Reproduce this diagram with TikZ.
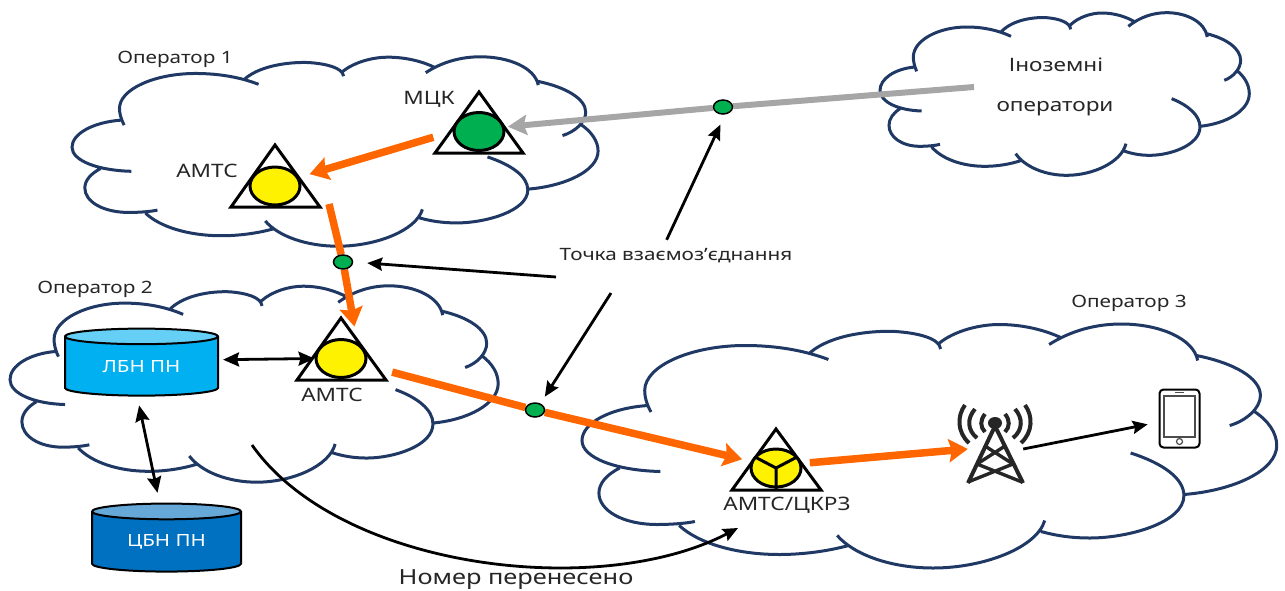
\documentclass[tikz,border=0pt]{standalone}
\usepackage{fontspec}
\setmainfont[FakeStretch=1.22]{Noto Sans}
\usetikzlibrary{arrows.meta,shapes.geometric,backgrounds}

\definecolor{cloudblue}{HTML}{1F3864}
\definecolor{linkorange}{HTML}{FF6600}
\definecolor{linkgray}{HTML}{A6A6A6}
\definecolor{hubgreen}{HTML}{00B050}
\definecolor{dbblue}{HTML}{00B0F0}
\definecolor{dbtop}{HTML}{66CFF6}
\definecolor{cdbblue}{HTML}{0070C0}
\definecolor{cdbtop}{HTML}{66A9D9}
\definecolor{towergray}{HTML}{262626}

\tikzset{
 cloudline/.style={draw=cloudblue, line width=3},
 tri/.style={draw=black, line width=3, miter limit=20},
 hub/.style={ellipse, draw=black, line width=3, inner sep=0, minimum width=50, minimum height=38},
 dot/.style={ellipse, draw=black, fill=hubgreen, line width=1.5, inner sep=0, minimum width=19, minimum height=14},
 lbl/.style={inner sep=0, text=black!85, font=\fontsize{17}{20}\selectfont},
 big/.style={font=\fontsize{18.5}{22}\selectfont},
 base/.style={cylinder, shape border rotate=90, draw=black, line width=2, cylinder uses custom fill,
  aspect=.2, text=white, inner sep=0, font=\fontsize{16.8}{19}\selectfont},
 orange/.style={draw=linkorange, line width=7.5},
 orangearrow/.style={orange, -{Stealth[length=19pt, width=23pt, inset=3pt]}},
 grayarrow/.style={draw=linkgray, line width=6, -{Stealth[length=19pt, width=20pt, inset=3pt]}},
 blackarrow/.style={draw=black, line width=2.8, -{Stealth[length=15pt, width=13pt, inset=2pt]}},
 bothways/.style={draw=black, line width=2.8, {Stealth[length=16pt, width=14pt, inset=2pt]}-{Stealth[length=16pt, width=14pt, inset=2pt]}},
 mast/.style={draw=towergray, line width=4},
}

% one cloud, in the coordinates of the crop
\newcommand{\cloudarcs}{
 \draw[cloudline]
  (140,183) .. controls (132,165) and (130,150) .. (130,140) .. controls (130,90) and (205,50) .. (290,50) .. controls (340,50) and (385,60) .. (423,78)
  (393,65) .. controls (430,25) and (500,20) .. (530,22) .. controls (565,25) and (600,35) .. (602,57)
  (600,45) .. controls (625,20) and (665,8) .. (695,8) .. controls (735,8) and (770,20) .. (795,35)
  (775,48) .. controls (810,20) and (850,7) .. (890,7) .. controls (950,7) and (1005,35) .. (1012,80)
  (1010,70) .. controls (1070,85) and (1112,115) .. (1112,150) .. controls (1112,175) and (1090,200) .. (1063,210)
  (1100,180) .. controls (1125,200) and (1138,225) .. (1138,250) .. controls (1138,300) and (1070,340) .. (990,348)
  (905,265) .. controls (955,285) and (990,315) .. (990,350) .. controls (990,405) and (900,435) .. (840,435) .. controls (810,435) and (785,430) .. (762,422)
  (768,400) .. controls (755,455) and (670,495) .. (590,495) .. controls (525,495) and (465,470) .. (437,430)
  (455,450) .. controls (420,462) and (380,468) .. (345,468) .. controls (275,468) and (215,445) .. (185,410)
  (210,402) .. controls (195,406) and (170,408) .. (150,408) .. controls (95,408) and (57,380) .. (57,345) .. controls (57,325) and (70,308) .. (90,295)
  (155,302) .. controls (85,300) and (30,275) .. (30,240) .. controls (30,205) and (75,175) .. (135,170);
}

\begin{document}
\begin{tikzpicture}[x=1pt, y=-1pt]
\useasboundingbox (0,0) rectangle (1285,590);

% triangles and hubs
 \draw[tri] (479,92) -- (523,153) -- (435,153) -- cycle;
 \node[hub, fill=hubgreen] (mck) at (479,131.5) {};

 \draw[tri] (275,145) -- (320,207) -- (231,207) -- cycle;
 \node[hub, fill=yellow] (amtsa) at (275,186) {};

 \draw[tri] (341,318) -- (386,380) -- (297,380) -- cycle;
 \node[hub, fill=yellow] (amtsb) at (341,358.5) {};

 \draw[tri] (776,429) -- (821,490) -- (732,490) -- cycle;
 \node[hub, fill=yellow] (amtsc) at (776,468) {};
 \draw[draw=black, line width=3] (amtsc.center) -- (755,457) (amtsc.center) -- (797,457) (amtsc.center) -- (776,490);

% databases
 \node[base, minimum width=153, minimum height=67, cylinder body fill=dbblue, cylinder end fill=dbtop] (lbn) at (141.5,366.5) {ЛБН ПН};
 \node[base, minimum width=149, minimum height=68, cylinder body fill=cdbblue, cylinder end fill=cdbtop] (cbn) at (166.5,542) {ЦБН ПН};

% points of interconnection
 \node[dot] (dota) at (343,262) {};
 \node[dot] (dotb) at (535,410) {};
 \node[dot] (dotc) at (723,107) {};

% tower
 \node[inner sep=0, minimum width=55, minimum height=88] (tower) at (995.5,449) {};
 \draw[mast] (995,426) -- (968,483) (995,426) -- (1023,483);
 \draw[mast, line width=3.4] (985,446) -- (1013,464) (1005,446) -- (977,464);
 \draw[mast, line width=3.4] (977,464) -- (1022,482) (1013,464) -- (968,482);
 \fill[towergray] (995,423) ellipse[x radius=7, y radius=6];
 \draw[mast] (985,414) .. controls (980,420) and (980,427) .. (985,432);
 \draw[mast] (975,409) .. controls (967,418) and (967,430) .. (977,438);
 \draw[mast] (965,405) .. controls (957,416) and (957,432) .. (969,443);
 \draw[mast] (1005,414) .. controls (1010,420) and (1010,427) .. (1005,432);
 \draw[mast] (1015,409) .. controls (1023,418) and (1023,430) .. (1013,438);
 \draw[mast] (1025,405) .. controls (1033,416) and (1033,432) .. (1021,443);

% phone
 \node[draw=black, line width=2, rounded corners=4pt, inner sep=0, minimum width=40, minimum height=58] (phone) at (1179.5,418.5) {};
 \draw[draw=black!70, line width=1.2] (1164,396) rectangle (1195,437);
 \draw[draw=black!70, line width=1.2] (1179.5,441.5) circle[radius=3];
 \draw[draw=black!70, line width=1] (1175,392.5) -- (1184,392.5);

% labels
 \node[lbl] (op1) at (175,59.5) {Оператор 1};
 \node[lbl] (op2) at (95,289.5) {Оператор 2};
 \node[lbl] (op3) at (1129,303.5) {Оператор 3};
 \node[lbl, big] (mcklabel) at (429,99) {МЦК};
 \node[lbl, big] (amtsalabel) at (207,171) {АМТС};
 \node[lbl, big] (amtsblabel) at (332,395) {АМТС};
 \node[lbl, big] (amtsclabel) at (787,505) {АМТС/ЦКРЗ};
 \node[lbl, big] (ino) at (1056,65) {Іноземні};
 \node[lbl, big] (oper) at (1055,109) {оператори};
 \node[lbl, minimum height=32] (poi) at (676,256) {Точка взаємоз’єднання};
 \node[lbl, font=\fontsize{20.8}{24}\selectfont] (moved) at (516,580) {Номер перенесено};

% free ends
 \coordinate (foreign) at (974,87);
 \coordinate (amtsaout) at (329,204);
 \coordinate (poiwest) at (556,277);
 \coordinate (poisouth) at (611,293);
 \coordinate (movedfrom) at (252,445);
 \coordinate (movedto) at (738,528);

\begin{pgfonlayer}{background}
 \begin{scope}[shift={(72,56)}, xscale=.4748, yscale=.3882, shift={(-30,-5)}]
  \cloudarcs
 \end{scope}
 \begin{scope}[shift={(10,285)}, xscale=.4406, yscale=.4024, shift={(-30,-5)}]
  \cloudarcs
 \end{scope}
 \begin{scope}[shift={(582,323)}, xscale=.6270, yscale=.5, shift={(-30,-5)}]
  \cloudarcs
 \end{scope}
 \begin{scope}[shift={(880,12)}, xscale=.3333, yscale=.3333, shift={(-30,-5)}]
  \cloudarcs
 \end{scope}

 \draw[draw=linkgray, line width=6] (foreign) -- (dotc);
 \draw[grayarrow, shorten >=3pt] (dotc) -- (mck.10);

 \draw[orangearrow, shorten <=20pt, shorten >=11pt] (mck.west) -- (amtsa.20);
 \draw[orange] (amtsaout) -- (dota);
 \draw[orangearrow, shorten >=16pt] (dota) -- (amtsb.45);
 \draw[orange, shorten <=27pt] (amtsb.-15) -- (dotb);
 \draw[orangearrow, shorten >=9pt] (dotb) -- (amtsc.165);
 \draw[orangearrow, shorten <=8pt] (amtsc.10) -- (tower.west);

 \draw[blackarrow, shorten >=11pt] (tower.east) -- (phone.190);
 \draw[bothways, shorten <=4pt] (lbn.5) -- (amtsb.west);
 \draw[bothways, shorten <=9pt, shorten >=10pt] (lbn.-98) -- (cbn.100);
 \draw[blackarrow, shorten >=14pt] (poiwest) -- (dota.east);
 \draw[blackarrow, shorten >=11pt] (poi.120) -- (dotc.-75);
 \draw[blackarrow, shorten >=8pt] (poisouth) -- (dotb.50);
 \draw[blackarrow] (movedfrom) .. controls (340,570) and (600,600) .. (movedto);
\end{pgfonlayer}

\end{tikzpicture}
\end{document}
